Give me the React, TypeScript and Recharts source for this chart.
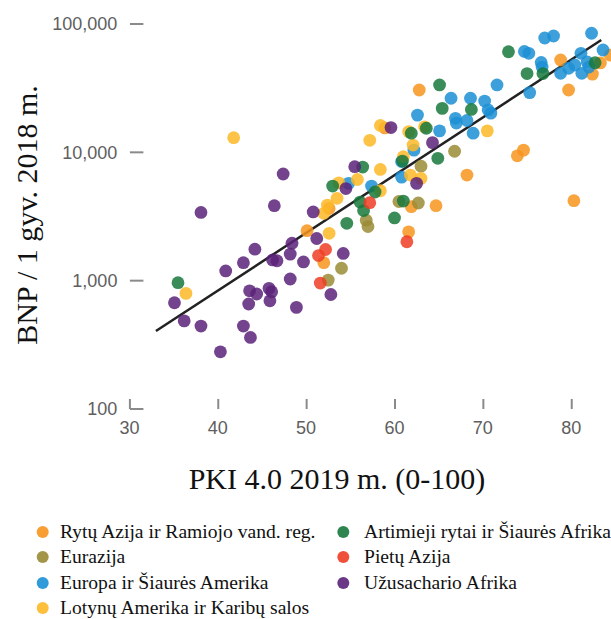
import React from "react";
import { ScatterChart, Scatter, XAxis, YAxis, ReferenceLine, Label } from "recharts";

const xTicks = [30, 40, 50, 60, 70, 80];
const yTicks = [100, 1000, 10000, 100000];

const rytuAzija = [
  { x: 62.8, y: 30600 }, { x: 78.8, y: 52400 }, { x: 79.7, y: 30600 }, { x: 82.4, y: 40700 },
  { x: 83.3, y: 49700 }, { x: 84.4, y: 57300 }, { x: 73.9, y: 9400 }, { x: 74.6, y: 10400 },
  { x: 68.2, y: 6650 }, { x: 80.3, y: 4200 }, { x: 64.7, y: 3840 }, { x: 61.9, y: 3770 },
  { x: 61.6, y: 2400 }, { x: 50.1, y: 2450 }, { x: 52.6, y: 3650 }, { x: 52.0, y: 1380 },
  { x: 58.9, y: 15500 },
];

const eurazija = [
  { x: 66.8, y: 10200 }, { x: 63.0, y: 7800 }, { x: 62.7, y: 4030 }, { x: 60.5, y: 4140 },
  { x: 56.8, y: 2960 }, { x: 57.0, y: 2640 }, { x: 52.5, y: 1010 }, { x: 54.0, y: 1250 },
];

const europa = [
  { x: 77.0, y: 77800 }, { x: 78.0, y: 80600 }, { x: 82.3, y: 84700 }, { x: 83.6, y: 62700 },
  { x: 74.7, y: 61100 }, { x: 75.2, y: 59100 }, { x: 76.6, y: 50100 }, { x: 76.7, y: 46200 },
  { x: 78.8, y: 41300 }, { x: 79.7, y: 45200 }, { x: 80.4, y: 47900 }, { x: 81.1, y: 59100 },
  { x: 81.2, y: 41300 }, { x: 81.8, y: 50600 }, { x: 82.0, y: 46200 }, { x: 75.3, y: 29200 },
  { x: 71.6, y: 33500 }, { x: 70.2, y: 25100 }, { x: 70.6, y: 21400 }, { x: 70.9, y: 20200 },
  { x: 68.6, y: 26400 }, { x: 66.4, y: 26400 }, { x: 66.9, y: 18400 }, { x: 67.0, y: 16900 },
  { x: 68.2, y: 17700 }, { x: 68.9, y: 14100 }, { x: 65.1, y: 14700 }, { x: 62.6, y: 19500 },
  { x: 62.2, y: 10400 }, { x: 60.8, y: 8470 }, { x: 60.8, y: 6410 }, { x: 57.4, y: 5460 },
  { x: 54.8, y: 5730 },
];

const lotynuAmerika = [
  { x: 41.8, y: 13000 }, { x: 58.4, y: 16200 }, { x: 57.2, y: 12400 }, { x: 61.6, y: 14500 },
  { x: 63.4, y: 15800 }, { x: 62.1, y: 11400 }, { x: 61.0, y: 9250 }, { x: 58.4, y: 7360 },
  { x: 55.8, y: 6140 }, { x: 53.7, y: 5790 }, { x: 61.8, y: 6650 }, { x: 63.0, y: 6270 },
  { x: 58.4, y: 5020 }, { x: 53.5, y: 4380 }, { x: 52.4, y: 3880 }, { x: 52.0, y: 3350 },
  { x: 52.6, y: 2340 }, { x: 70.5, y: 14700 }, { x: 36.4, y: 796 },
];

const artimiejiRytai = [
  { x: 72.9, y: 60800 }, { x: 75.0, y: 41100 }, { x: 76.8, y: 41100 }, { x: 82.7, y: 49900 },
  { x: 65.1, y: 33500 }, { x: 65.4, y: 22000 }, { x: 68.7, y: 21600 }, { x: 63.6, y: 15400 },
  { x: 61.9, y: 14100 }, { x: 64.9, y: 8980 }, { x: 60.9, y: 8550 }, { x: 56.4, y: 7680 },
  { x: 53.0, y: 5460 }, { x: 57.8, y: 4910 }, { x: 56.1, y: 4100 }, { x: 56.5, y: 3520 },
  { x: 61.0, y: 4170 }, { x: 60.0, y: 3080 }, { x: 54.6, y: 2800 }, { x: 35.5, y: 964 },
];

const pietuAzija = [
  { x: 57.2, y: 4050 }, { x: 61.4, y: 2010 }, { x: 52.2, y: 1750 }, { x: 51.4, y: 1570 },
  { x: 51.6, y: 958 },
];

const uzusacharioAfrika = [
  { x: 38.1, y: 3400 }, { x: 46.4, y: 3840 }, { x: 47.4, y: 6780 }, { x: 50.8, y: 3430 },
  { x: 44.2, y: 1760 }, { x: 42.9, y: 1380 }, { x: 40.9, y: 1190 }, { x: 46.2, y: 1450 },
  { x: 46.7, y: 1430 }, { x: 48.2, y: 1610 }, { x: 48.4, y: 1960 }, { x: 49.7, y: 1400 },
  { x: 48.2, y: 1030 }, { x: 43.6, y: 834 }, { x: 44.4, y: 787 }, { x: 45.8, y: 871 },
  { x: 46.1, y: 820 }, { x: 45.9, y: 697 }, { x: 43.5, y: 658 }, { x: 48.9, y: 619 },
  { x: 35.1, y: 673 }, { x: 36.2, y: 486 }, { x: 38.1, y: 443 }, { x: 42.9, y: 443 },
  { x: 43.7, y: 361 }, { x: 40.3, y: 279 }, { x: 51.2, y: 2130 }, { x: 52.8, y: 780 },
  { x: 54.2, y: 1630 }, { x: 54.5, y: 5220 }, { x: 55.5, y: 7730 }, { x: 59.6, y: 15600 },
  { x: 64.3, y: 11900 }, { x: 62.5, y: 5730 },
];

const trendLine = [{ x: 33.0, y: 405 }, { x: 83.4, y: 75000 }];

const series = [
  { name: "Rytų Azija ir Ramiojo vand. reg.", color: "#F7941D", data: rytuAzija },
  { name: "Eurazija", color: "#9A8B35", data: eurazija },
  { name: "Europa ir Šiaurės Amerika", color: "#1B8FD4", data: europa },
  { name: "Lotynų Amerika ir Karibų salos", color: "#FDB827", data: lotynuAmerika },
  { name: "Artimieji rytai ir Šiaurės Afrika", color: "#17783C", data: artimiejiRytai },
  { name: "Pietų Azija", color: "#EE3D23", data: pietuAzija },
  { name: "Užusachario Afrika", color: "#5A2279", data: uzusacharioAfrika },
];

const sans = "'Liberation Sans', Arial, sans-serif";
const serif = "'Liberation Serif', 'Times New Roman', serif";

const YTick = ({ x, y, payload }: any) => (
  <g>
    <text x={x - 12} y={y} dy={6.3} textAnchor="end" fontSize={18} fill="#5e5e5e" fontFamily={sans}>
      {payload.value.toLocaleString("en-US")}
    </text>
    <line x1={x + 0.5} x2={x + 14} y1={y} y2={y} stroke="#8a8a8a" strokeWidth={2} />
  </g>
);

const XTick = ({ x, y, payload }: any) => (
  <g>
    <line x1={x + 0.5} x2={x + 0.5} y1={y} y2={y - 10} stroke="#8a8a8a" strokeWidth={2} />
    <text x={x} y={y + 24.5} textAnchor="middle" fontSize={18} fill="#5e5e5e" fontFamily={sans}>
      {payload.value}
    </text>
  </g>
);

const dot = (color: string) => (p: any) => (
  <circle cx={p.cx} cy={p.cy} r={6.4} fill={color} fillOpacity={0.85} />
);

function ChartLegend() {
  const cols = [
    { marker: 42.7, text: 60 },
    { marker: 343.3, text: 364 },
  ];
  const rows = [532, 557, 583, 608];
  return (
    <svg width={611} height={619} style={{ position: "absolute", left: 0, top: 0, pointerEvents: "none" }}>
      {series.map((s, i) => {
        const col = i < 4 ? cols[0] : cols[1];
        const cy = rows[i < 4 ? i : i - 4];
        return (
          <g key={s.name}>
            <circle cx={col.marker} cy={cy} r={6} fill={s.color} fillOpacity={0.9} />
            <text x={col.text} y={cy + 5.5} fontSize={19.6} fill="#111" fontFamily={serif}>
              {s.name}
            </text>
          </g>
        );
      })}
    </svg>
  );
}

export default function App() {
  return (
    <div style={{ position: "absolute", left: 0, top: 0, width: 611, height: 619, background: "#fff" }}>
      <ScatterChart width={611} height={619} margin={{ top: 24, right: 0, bottom: 0, left: 0 }}>
        <XAxis
          type="number"
          dataKey="x"
          domain={[30, 84.5]}
          ticks={xTicks}
          allowDataOverflow
          height={210}
          axisLine={false}
          tickLine={false}
          tickSize={0}
          tickMargin={0}
          tick={<XTick />}
        >
          <Label
            content={() => (
              <text x={337} y={489} textAnchor="middle" fontSize={30} fill="#111" fontFamily={serif}>
                PKI 4.0 2019 m. (0-100)
              </text>
            )}
          />
        </XAxis>
        <YAxis
          type="number"
          dataKey="y"
          scale="log"
          domain={[100, 100000]}
          ticks={yTicks}
          allowDataOverflow
          width={129.4}
          axisLine={false}
          tickLine={false}
          tickSize={0}
          tickMargin={0}
          tick={<YTick />}
        >
          <Label
            content={() => (
              <text
                x={37}
                y={215}
                transform="rotate(-90 37 215)"
                textAnchor="middle"
                fontSize={30}
                fill="#111"
                fontFamily={serif}
              >
                BNP / 1 gyv. 2018 m.
              </text>
            )}
          />
        </YAxis>
        {series.map((s) => (
          <Scatter
            key={s.name}
            name={s.name}
            data={s.data}
            fill={s.color}
            shape={dot(s.color)}
            isAnimationActive={false}
          />
        ))}
        <ReferenceLine
          segment={trendLine}
          stroke="#222"
          strokeWidth={2.5}
          ifOverflow="visible"
        />
      </ScatterChart>
      <ChartLegend />
    </div>
  );
}
